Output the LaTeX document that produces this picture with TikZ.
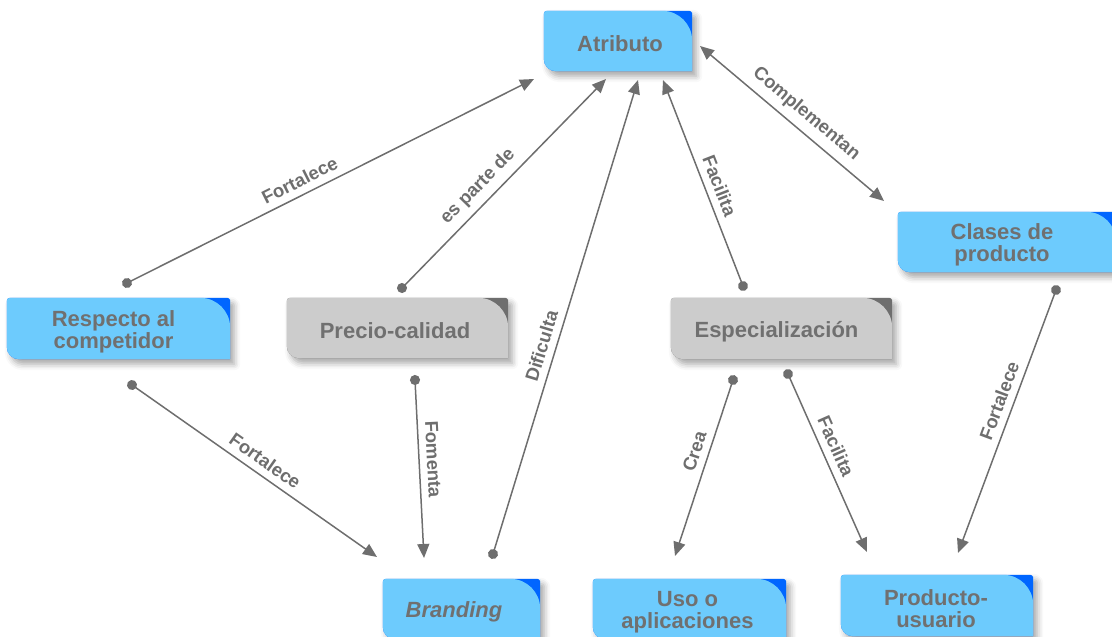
\documentclass[tikz,border=0pt]{standalone}
\usepackage{fontspec}
\setmainfont{Liberation Sans}
\usetikzlibrary{arrows.meta,shadows.blur,calc}

\definecolor{skyfill}{HTML}{6DCBFD}
\definecolor{skycorner}{HTML}{0066FF}
\definecolor{greyfill}{HTML}{CCCCCC}
\definecolor{greycorner}{HTML}{6E6E6E}
\definecolor{inktext}{HTML}{707070}
\definecolor{linkgrey}{HTML}{6E6E6E}

\pgfdeclarelayer{background}
\pgfsetlayers{background,main}

\tikzset{
  concept/.style={inner sep=0pt, align=center, text=inktext,
    font=\bfseries\fontsize{22pt}{22pt}\selectfont},
  link/.style={draw=linkgrey, line width=1.5pt, shorten <=-5pt,
    {Circle[length=10pt]}-{Triangle[length=14pt,width=12pt]}},
  twoway/.style={draw=linkgrey, line width=1.5pt,
    {Triangle[length=14pt,width=12pt]}-{Triangle[length=14pt,width=12pt]}},
  linklabel/.style={sloped, above, inner sep=7pt, text=linkgrey,
    font=\bfseries\fontsize{18.5pt}{19pt}\selectfont},
  boxshadow/.style={blur shadow={shadow xshift=4pt, shadow yshift=-5pt,
    shadow blur radius=6pt, shadow opacity=35}}
}

% tab-shaped background behind a concept node:
% #1 node, #2 body colour, #3 corner colour, #4 horizontal offset of the tab from the text
\newcommand\tabshape[4]{%
  \begin{pgfonlayer}{background}
    \begin{scope}[every coordinate/.style={}]
    \fill[#3, boxshadow] ([xshift=#4pt,yshift=3pt]#1.west) [rounded corners=3pt]
      |- ([xshift=#4pt,yshift=3pt]#1.north east)
      [sharp corners] |- ([xshift=#4pt,yshift=3pt]#1.south)
      [rounded corners=12pt] -| ([xshift=#4pt,yshift=3pt]#1.west);
    \fill[#2] ([xshift=#4pt,yshift=3pt]#1.west) [rounded corners=3pt]
      |- ([xshift=#4pt,yshift=3pt]#1.north)
      [rounded corners=30pt] -| ([xshift=#4pt,yshift=3pt]#1.east)
      [sharp corners] |- ([xshift=#4pt,yshift=3pt]#1.south)
      [rounded corners=12pt] -| ([xshift=#4pt,yshift=3pt]#1.west);
    \end{scope}
  \end{pgfonlayer}}

\begin{document}
\begin{tikzpicture}[x=1pt, y=-1pt]
  \useasboundingbox (0,0) rectangle (1112,637);

  % concepts (text positions; tabs sit 3pt higher)
  \node[concept, minimum width=148pt, minimum height=60pt] (atr) at (620,44) {Atributo};
  \node[concept, minimum width=218pt, minimum height=60pt] (cla) at (1002,245) {Clases de\\producto};
  \node[concept, minimum width=223pt, minimum height=61pt] (resp) at (113.5,331.5) {Respecto al\\competidor};
  \node[concept, minimum width=221pt, minimum height=60pt] (pre) at (395,331) {Precio-calidad};
  \node[concept, minimum width=221pt, minimum height=61pt] (esp) at (776.5,331.5) {Especialización};
  \node[concept, minimum width=157pt, minimum height=60pt] (bra) at (454,612) {\itshape Branding};
  \node[concept, minimum width=193pt, minimum height=60pt] (uso) at (687.5,612) {Uso o\\aplicaciones};
  \node[concept, minimum width=192pt, minimum height=61pt] (pro) at (936,608.5) {Producto-\\usuario};

  \tabshape{atr}{skyfill}{skycorner}{-2}
  \tabshape{cla}{skyfill}{skycorner}{5}
  \tabshape{resp}{skyfill}{skycorner}{5}
  \tabshape{pre}{greyfill}{greycorner}{2.5}
  \tabshape{esp}{greyfill}{greycorner}{5}
  \tabshape{bra}{skyfill}{skycorner}{7.5}
  \tabshape{uso}{skyfill}{skycorner}{2}
  \tabshape{pro}{skyfill}{skycorner}{1}

  % connector ends
  \coordinate (resp-up)   at (127,283);
  \coordinate (atr-a)     at (534,79);
  \coordinate (pre-up)    at (402,288);
  \coordinate (atr-b)     at (606,79);
  \coordinate (bra-up)    at (493,554);
  \coordinate (atr-c)     at (638,80);
  \coordinate (esp-up)    at (743,286);
  \coordinate (atr-d)     at (663,80);
  \coordinate (atr-e)     at (700,46);
  \coordinate (cla-in)    at (884,201);
  \coordinate (resp-down) at (132,385);
  \coordinate (bra-a)     at (377,557);
  \coordinate (pre-down)  at (415,380);
  \coordinate (bra-b)     at (424,558);
  \coordinate (esp-left)  at (733,380);
  \coordinate (uso-in)    at (675,556);
  \coordinate (esp-right) at (788,374);
  \coordinate (pro-a)     at (867,552);
  \coordinate (cla-down)  at (1056,290);
  \coordinate (pro-b)     at (958,553);

  % connectors
  \draw[link] (resp-up) -- node[linklabel, pos=.44] {Fortalece} (atr-a);
  \draw[link] (pre-up) -- node[linklabel, pos=.43] {es parte de} (atr-b);
  \draw[link] (bra-up) -- node[linklabel, pos=.43] {Dificulta} (atr-c);
  \draw[link] (esp-up) -- node[linklabel, pos=.46] {Facilita} (atr-d);
  \draw[twoway] (atr-e) -- node[linklabel, pos=.52] {Complementan} (cla-in);
  \draw[link] (resp-down) -- node[linklabel, pos=.51] {Fortalece} (bra-a);
  \draw[link] (pre-down) -- node[linklabel, pos=.45] {Fomenta} (bra-b);
  \draw[link] (esp-left) -- node[linklabel, pos=.43] {Crea} (uso-in);
  \draw[link] (esp-right) -- node[linklabel, pos=.44] {Facilita} (pro-a);
  \draw[link] (cla-down) -- node[linklabel, pos=.44] {Fortalece} (pro-b);
\end{tikzpicture}
\end{document}
